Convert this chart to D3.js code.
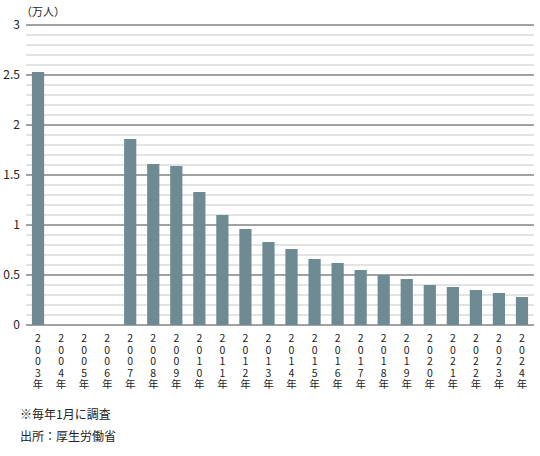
<!DOCTYPE html>
<html><head><meta charset="utf-8">
<script src="https://cdn.jsdelivr.net/npm/d3@7"></script>
<style>body{margin:0;background:#fff}text{font-family:"Noto Sans CJK JP",sans-serif}</style>
</head><body><div id="chart"></div>
<script>
// data
const years = ["2003","2004","2005","2006","2007","2008","2009","2010","2011","2012","2013","2014","2015","2016","2017","2018","2019","2020","2021","2022","2023","2024"];
const values = [2.53,null,null,null,1.86,1.61,1.59,1.33,1.10,0.96,0.83,0.76,0.66,0.62,0.55,0.50,0.46,0.40,0.38,0.35,0.32,0.28];
const yTicks = [0,0.5,1,1.5,2,2.5,3];

const svg = d3.select("#chart").append("svg").attr("width",540).attr("height",456);

const x = d3.scaleBand().domain(years).range([26.5,533.5]).paddingInner(0.47).paddingOuter(0.235);
const y = d3.scaleLinear().domain([0,3]).range([325,25]);

// minor gridlines
svg.append("g").selectAll("line").data(d3.range(0,31).map(i=>i/10).filter(v=>Math.round(v*10)%5!==0))
  .join("line").attr("x1",26).attr("x2",534).attr("y1",d=>y(d)).attr("y2",d=>y(d))
  .attr("stroke","#c8c8c8").attr("stroke-width",1);
// major gridlines
svg.append("g").selectAll("line").data(yTicks)
  .join("line").attr("x1",26).attr("x2",534).attr("y1",d=>y(d)).attr("y2",d=>y(d))
  .attr("stroke","#444").attr("stroke-width",1);

svg.append("g").selectAll("text").data(yTicks).join("text")
  .attr("x",20).attr("y",d=>y(d)).attr("dy","0.35em").attr("text-anchor","end")
  .attr("font-size",12).attr("fill","#222").text(d=>d);

svg.append("text").attr("x",21).attr("y",16).attr("font-size",11).attr("fill","#222").text("（万人）");

svg.append("g").selectAll("rect").data(years.map((k,i)=>({k,v:values[i]})).filter(d=>d.v!=null))
  .join("rect").attr("x",d=>x(d.k)).attr("width",x.bandwidth())
  .attr("y",d=>y(d.v)).attr("height",d=>y(0)-y(d.v)).attr("fill","#6e8a93");

// vertical category labels
const lab = svg.append("g").selectAll("g").data(years).join("g")
  .attr("transform",d=>`translate(${x(d)+x.bandwidth()/2},0)`);
lab.selectAll("text").data(d=>[...d,"年"]).join("text")
  .attr("x",0).attr("y",(d,i)=>342+i*11.5).attr("text-anchor","middle")
  .attr("font-size",10.5).attr("fill","#222").text(d=>d);

svg.append("text").attr("x",20).attr("y",419).attr("font-size",12).attr("fill","#222").text("※毎年1月に調査");
svg.append("text").attr("x",20).attr("y",441).attr("font-size",12).attr("fill","#222").text("出所：厚生労働省");
</script></body></html>
